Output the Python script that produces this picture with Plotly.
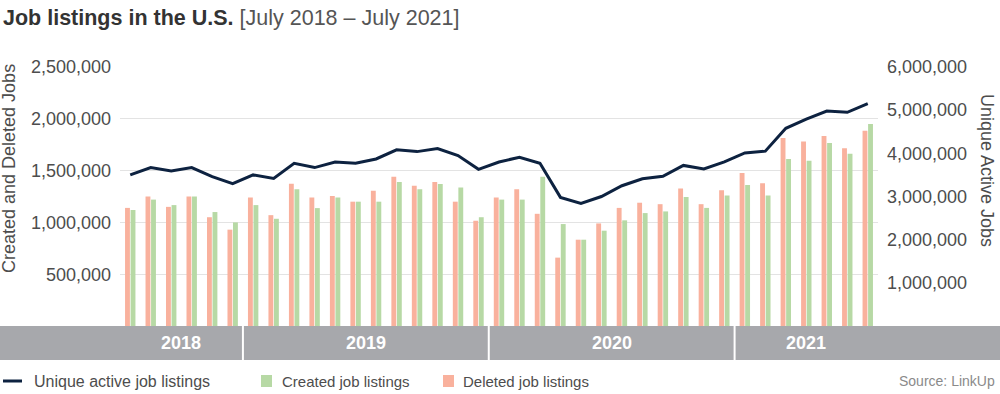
import plotly.graph_objects as go

months = ["Jul 2018", "Aug 2018", "Sep 2018", "Oct 2018", "Nov 2018", "Dec 2018",
          "Jan 2019", "Feb 2019", "Mar 2019", "Apr 2019", "May 2019", "Jun 2019",
          "Jul 2019", "Aug 2019", "Sep 2019", "Oct 2019", "Nov 2019", "Dec 2019",
          "Jan 2020", "Feb 2020", "Mar 2020", "Apr 2020", "May 2020", "Jun 2020",
          "Jul 2020", "Aug 2020", "Sep 2020", "Oct 2020", "Nov 2020", "Dec 2020",
          "Jan 2021", "Feb 2021", "Mar 2021", "Apr 2021", "May 2021", "Jun 2021",
          "Jul 2021"]

deleted = [1140000, 1250000, 1150000, 1250000, 1050000, 930000,
           1240000, 1070000, 1373000, 1240000, 1254000, 1200000,
           1305000, 1440000, 1353000, 1390000, 1200000, 1016000,
           1240000, 1320000, 1083000, 660000, 833000, 990000,
           1140000, 1190000, 1176000, 1327000, 1176000, 1310000,
           1478000, 1378000, 1814000, 1780000, 1833000, 1715000,
           1885000]

created = [1120000, 1220000, 1167000, 1250000, 1100000, 1000000,
           1167000, 1035000, 1320000, 1138000, 1240000, 1200000,
           1200000, 1390000, 1320000, 1370000, 1337000, 1050000,
           1220000, 1220000, 1440000, 984000, 833000, 920000,
           1020000, 1090000, 1106000, 1244000, 1140000, 1260000,
           1360000, 1260000, 1612000, 1596000, 1766000, 1663000,
           1950000]

active = [3500000, 3670000, 3590000, 3670000, 3460000, 3300000,
          3500000, 3420000, 3770000, 3670000, 3800000, 3770000,
          3870000, 4080000, 4040000, 4110000, 3950000, 3630000,
          3800000, 3910000, 3770000, 2980000, 2840000, 3000000,
          3250000, 3410000, 3470000, 3720000, 3640000, 3800000,
          4010000, 4050000, 4580000, 4790000, 4980000, 4950000,
          5150000]

years = ["2018", "2019", "2020", "2021"]
year_start = [0, 6, 18, 30]
year_end = [5, 17, 29, 36]

left_ticks = [500000, 1000000, 1500000, 2000000, 2500000]
right_ticks = [1000000, 2000000, 3000000, 4000000, 5000000, 6000000]

FONT = "Liberation Sans"
TXT = "#4d4d4d"
C_DEL = "#f9b19d"
C_CRE = "#b7d9a5"
C_LINE = "#0d2240"
BAND = "#a7a8ac"

L, R, T, B = 120, 122, 67, 68
W, H = 1000, 394
pw = W - L - R
ph = H - T - B

fig = go.Figure()
fig.add_trace(go.Bar(x=months, y=deleted, name="Deleted job listings",
                     marker=dict(color=C_DEL, line=dict(width=0)), showlegend=False))
fig.add_trace(go.Bar(x=months, y=created, name="Created job listings",
                     marker=dict(color=C_CRE, line=dict(width=0)), showlegend=False))
fig.add_trace(go.Scatter(x=months, y=active, name="Unique active job listings",
                         mode="lines", line=dict(color=C_LINE, width=3),
                         yaxis="y2", showlegend=False))

shapes = []
annotations = []
# year band
band_h = 34 / ph
shapes.append(dict(type="rect", xref="paper", yref="paper",
                   x0=-L / pw, x1=1 + R / pw, y0=-band_h, y1=0,
                   fillcolor=BAND, line=dict(width=0), layer="above"))
for i in range(1, len(years)):
    xb = year_start[i] - 0.5
    shapes.append(dict(type="line", xref="x", yref="paper", x0=xb, x1=xb,
                       y0=-band_h, y1=0, line=dict(color="white", width=2), layer="above"))
for y, s, e in zip(years, year_start, year_end):
    annotations.append(dict(text="<b>%s</b>" % y, xref="x", yref="paper",
                            x=(s + e) / 2, y=-band_h / 2, showarrow=False,
                            font=dict(family=FONT, size=18, color="white"),
                            xanchor="center", yanchor="middle"))

# title
annotations.append(dict(text="<b>Job listings in the U.S.</b> <span style='color:#555555'>[July 2018 – July 2021]</span>",
                        xref="paper", yref="paper", x=-L / pw + 1 / pw, y=1 + (T - 4) / ph,
                        xanchor="left", yanchor="top", showarrow=False,
                        font=dict(family=FONT, size=21.5, color="#333333")))
# axis titles
annotations.append(dict(text="Created and Deleted Jobs", xref="paper", yref="paper",
                        x=-(L - 9) / pw, y=1 - (168 - T) / ph, textangle=-90,
                        xanchor="center", yanchor="middle", showarrow=False,
                        font=dict(family=FONT, size=18, color=TXT)))
annotations.append(dict(text="Unique Active Jobs", xref="paper", yref="paper",
                        x=1 + (987 - (W - R)) / pw, y=1 - (170 - T) / ph, textangle=90,
                        xanchor="center", yanchor="middle", showarrow=False,
                        font=dict(family=FONT, size=18, color=TXT)))

# legend (manual)
ly = 1 - (381 - T) / ph
shapes.append(dict(type="line", xref="paper", yref="paper",
                   x0=(3 - L) / pw, x1=(22 - L) / pw, y0=ly, y1=ly,
                   line=dict(color=C_LINE, width=3)))
shapes.append(dict(type="rect", xref="paper", yref="paper",
                   x0=(261 - L) / pw, x1=(272 - L) / pw, y0=ly - 6 / ph, y1=ly + 6 / ph,
                   fillcolor=C_CRE, line=dict(width=0)))
shapes.append(dict(type="rect", xref="paper", yref="paper",
                   x0=(443 - L) / pw, x1=(454 - L) / pw, y0=ly - 6 / ph, y1=ly + 6 / ph,
                   fillcolor=C_DEL, line=dict(width=0)))
for txt, xp, fs in [("Unique active job listings", 32, 16), ("Created job listings", 280, 15),
                    ("Deleted job listings", 461, 15)]:
    annotations.append(dict(text=txt, xref="paper", yref="paper", x=(xp - L) / pw, y=ly,
                            xanchor="left", yanchor="middle", showarrow=False,
                            font=dict(family=FONT, size=fs, color=TXT)))
annotations.append(dict(text="Source: LinkUp", xref="paper", yref="paper",
                        x=1 + (997 - (W - R)) / pw, y=ly, xanchor="right", yanchor="middle",
                        showarrow=False, font=dict(family=FONT, size=14, color="#8a8a8a")))

fig.update_layout(
    width=W, height=H, margin=dict(l=L, r=R, t=T, b=B),
    paper_bgcolor="white", plot_bgcolor="white",
    barmode="group", bargap=0.46, bargroupgap=0.12,
    font=dict(family=FONT, color=TXT),
    xaxis=dict(showticklabels=False, showgrid=False, zeroline=False, ticks="",
               range=[-0.5, len(months) - 0.5]),
    yaxis=dict(range=[0, 2500000], tickvals=left_ticks, tickformat=",d",
               showgrid=True, gridcolor="#e3e3e3", gridwidth=1, zeroline=False,
               tickfont=dict(family=FONT, size=18, color=TXT), ticklabelstandoff=8),
    yaxis2=dict(range=[0, 6000000], tickvals=right_ticks, tickformat=",d",
                overlaying="y", side="right", showgrid=False, zeroline=False,
                tickfont=dict(family=FONT, size=18, color=TXT), ticklabelstandoff=8),
    shapes=shapes, annotations=annotations, showlegend=False,
)

fig.write_html("out.html", config={"displayModeBar": False},
               post_script="document.body.style.margin='0';")
